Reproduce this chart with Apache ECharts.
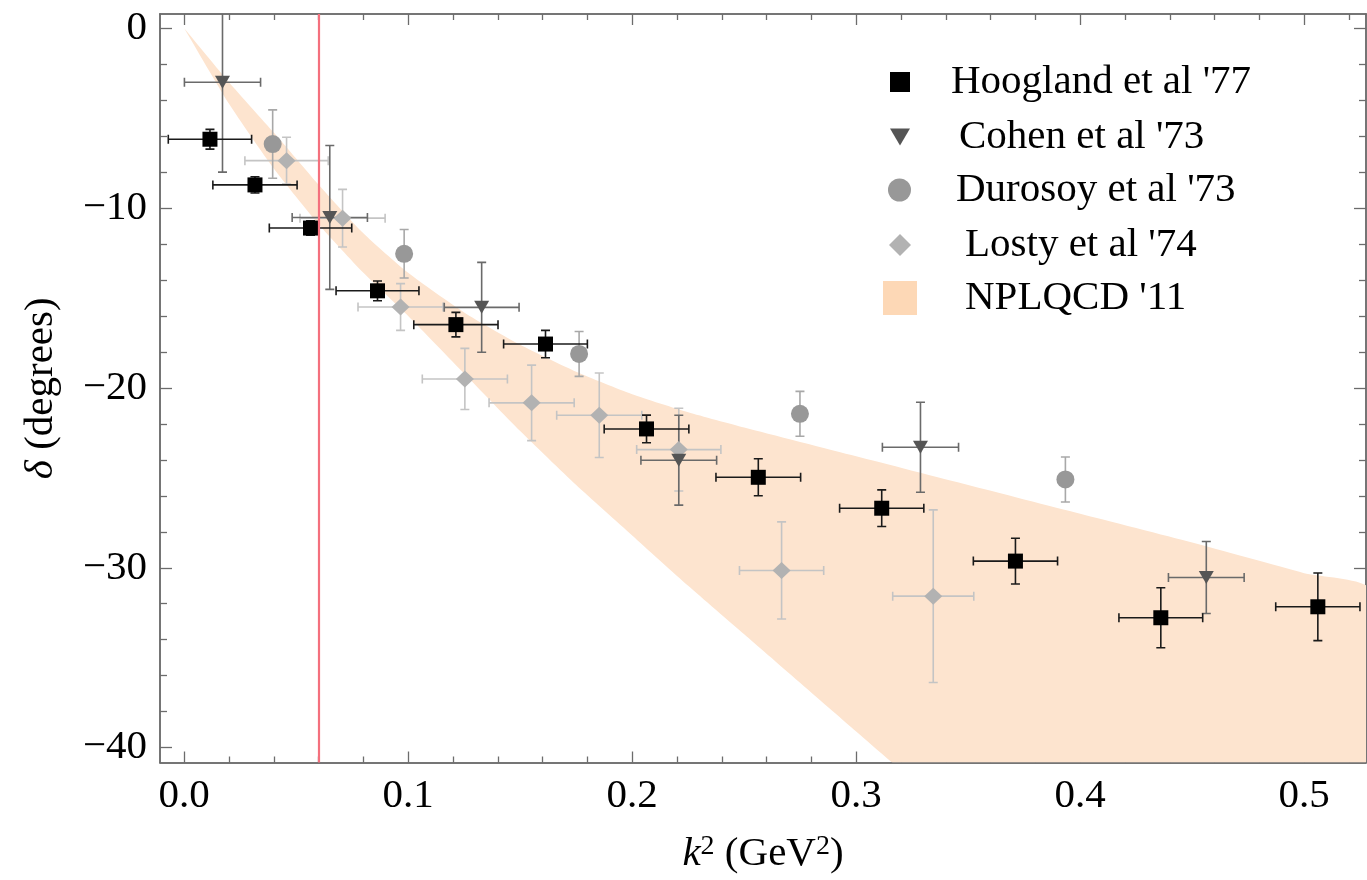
<!DOCTYPE html>
<html>
<head>
<meta charset="utf-8">
<script src="https://cdn.jsdelivr.net/npm/echarts@6/dist/echarts.min.js"></script>
<style>
html,body{margin:0;padding:0;background:#ffffff;}
#chart{width:1367px;height:880px;}
</style>
</head>
<body>
<div id="chart"></div>
<script>
// ---------------- data ----------------
const hooglandX    = [0.0115, 0.0316, 0.0564, 0.0863, 0.1213, 0.1613, 0.2064, 0.2563, 0.3114, 0.3711, 0.4360, 0.5061];
const hooglandY    = [-6.17, -8.71, -11.11, -14.60, -16.48, -17.56, -22.28, -24.97, -26.69, -29.63, -32.78, -32.17];
const hooglandXErr = [0.0186, 0.0188, 0.0184, 0.0185, 0.0188, 0.0187, 0.0189, 0.0189, 0.0188, 0.0188, 0.0187, 0.0188];
const hooglandYErr = [0.55, 0.45, 0.40, 0.55, 0.68, 0.76, 0.77, 1.03, 1.02, 1.27, 1.67, 1.88];

const cohenX    = [0.0171, 0.0650, 0.1328, 0.2208, 0.3287, 0.4563];
const cohenY    = [-3.00, -10.52, -15.52, -24.02, -23.30, -30.54];
const cohenXErr = [0.0170, 0.0168, 0.0167, 0.0169, 0.0170, 0.0169];
const cohenYErr = [5.0, 4.0, 2.5, 2.5, 2.5, 2.0];

const durosoyX    = [0.0395, 0.0982, 0.1763, 0.2749, 0.3934];
const durosoyY    = [-6.44, -12.54, -18.11, -21.44, -25.09];
const durosoyYErr = [1.9, 1.35, 1.25, 1.25, 1.25];

const lostyX    = [0.0457, 0.0707, 0.0966, 0.1253, 0.1551, 0.1853, 0.2208, 0.2667, 0.3344];
const lostyY    = [-7.36, -10.56, -15.50, -19.50, -20.83, -21.52, -23.43, -30.15, -31.58];
const lostyXErr = [0.0186, 0.0190, 0.0190, 0.0190, 0.0190, 0.0190, 0.0188, 0.0188, 0.0181];
const lostyYErr = [1.3, 1.6, 1.3, 1.7, 2.1, 2.35, 2.3, 2.7, 4.8];

// NPLQCD '11 band (upper / lower edge)
const bandX     = [0, 0.02, 0.04, 0.06, 0.08, 0.10, 0.125, 0.15, 0.175, 0.20, 0.225, 0.25, 0.30, 0.35, 0.40, 0.45, 0.50, 0.53];
const bandUpper = [0, -3.0, -5.8, -8.7, -11.4, -13.6, -15.8, -17.6, -19.1, -20.35, -21.35, -22.2, -23.8, -25.4, -27.0, -28.6, -30.3, -31.3];
const bandLower = [0, -4.2, -7.8, -10.9, -13.6, -16.0, -19.2, -22.4, -25.4, -28.2, -31.0, -33.7, -39.1, -44.5, -49.8, -55.0, -60.2, -63.3];

// vertical threshold line
const thresholdX = [0.0579];

// ticks
const xMajorTicks = [0, 0.1, 0.2, 0.3, 0.4, 0.5];
const xMinorTicks = [0.02, 0.04, 0.06, 0.08, 0.12, 0.14, 0.16, 0.18, 0.22, 0.24, 0.26, 0.28, 0.32, 0.34, 0.36, 0.38, 0.42, 0.44, 0.46, 0.48, 0.52];
const yMajorTicks = [0, -10, -20, -30, -40];
const yMinorTicks = [-2, -4, -6, -8, -12, -14, -16, -18, -22, -24, -26, -28, -32, -34, -36, -38];

const seriesNames = ["Hoogland et al '77", "Cohen et al '73", "Durosoy et al '73", "Losty et al '74", "NPLQCD '11"];

// ---------------- layout / style ----------------
const X_MIN = -0.0108, X_MAX = 0.5276;
const Y_MIN = -40.83, Y_MAX = 0.794;
const FONT = "'Liberation Serif', 'Times New Roman', serif";
const FRAME = '#6c6c6c';
const TRI_DOWN = 'path://M0,0 L20,0 L10,17 Z';

function zip(a, b, c, d) {
  return a.map((v, i) => [v, b[i], c ? c[i] : 0, d ? d[i] : 0]);
}

function xAxisDef(position, ticks, len, withLabels) {
  const ax = {
    type: 'value', position: position, min: X_MIN, max: X_MAX,
    splitLine: { show: false },
    axisLine: { show: true, onZero: false, lineStyle: { color: FRAME, width: 1.5 } },
    axisTick: { show: true, inside: true, length: len, customValues: ticks, lineStyle: { color: FRAME, width: 1.3 } },
    axisLabel: { show: false }
  };
  if (withLabels) {
    ax.axisLabel = {
      show: true, customValues: ticks, margin: 13,
      fontFamily: FONT, fontSize: 41, color: '#000',
      formatter: v => v.toFixed(1)
    };
    ax.name = '{i|k}{s|2}{n| (GeV}{s|2}{n|)}';
    ax.nameLocation = 'middle';
    ax.nameGap = 70;
    ax.nameTextStyle = {
      fontFamily: FONT, fontSize: 41, color: '#000',
      rich: {
        i: { fontFamily: FONT, fontSize: 41, fontStyle: 'italic', color: '#000', lineHeight: 44 },
        n: { fontFamily: FONT, fontSize: 41, color: '#000', lineHeight: 44 },
        s: { fontFamily: FONT, fontSize: 28, color: '#000', verticalAlign: 'top', lineHeight: 26 }
      }
    };
  }
  return ax;
}

function yAxisDef(position, ticks, len, withLabels) {
  const ax = {
    type: 'value', position: position, min: Y_MIN, max: Y_MAX,
    splitLine: { show: false },
    axisLine: { show: true, onZero: false, lineStyle: { color: FRAME, width: 1.5 } },
    axisTick: { show: true, inside: true, length: len, customValues: ticks, lineStyle: { color: FRAME, width: 1.3 } },
    axisLabel: { show: false }
  };
  if (withLabels) {
    ax.axisLabel = {
      show: true, customValues: ticks, margin: 13,
      fontFamily: FONT, fontSize: 41, color: '#000',
      formatter: v => (v < 0 ? '\u2212' + Math.abs(v) : String(v))
    };
    ax.name = '{i|\u03b4}{n| (degrees)}';
    ax.nameLocation = 'middle';
    ax.nameRotate = 90;
    ax.nameGap = 97;
    ax.nameTextStyle = {
      fontFamily: FONT, fontSize: 41, color: '#000',
      rich: {
        i: { fontFamily: FONT, fontSize: 41, fontStyle: 'italic', color: '#000', lineHeight: 44 },
        n: { fontFamily: FONT, fontSize: 41, color: '#000', lineHeight: 44 }
      }
    };
  }
  return ax;
}

function errorBarSeries(name, data, color, width) {
  const cap = 4.5;
  return {
    type: 'custom', name: name, xAxisIndex: 0, yAxisIndex: 0, z: 3, clip: true,
    encode: { x: 0, y: 1 }, silent: true,
    data: data,
    renderItem: function (params, api) {
      const x = api.value(0), y = api.value(1), ex = api.value(2), ey = api.value(3);
      const st = { stroke: color, lineWidth: width };
      const children = [];
      if (ex > 0) {
        const l = api.coord([x - ex, y]), r = api.coord([x + ex, y]);
        children.push({ type: 'line', shape: { x1: l[0], y1: l[1], x2: r[0], y2: r[1] }, style: st });
        children.push({ type: 'line', shape: { x1: l[0], y1: l[1] - cap, x2: l[0], y2: l[1] + cap }, style: st });
        children.push({ type: 'line', shape: { x1: r[0], y1: r[1] - cap, x2: r[0], y2: r[1] + cap }, style: st });
      }
      if (ey > 0) {
        const t = api.coord([x, y + ey]), b = api.coord([x, y - ey]);
        children.push({ type: 'line', shape: { x1: t[0], y1: t[1], x2: b[0], y2: b[1] }, style: st });
        children.push({ type: 'line', shape: { x1: t[0] - cap, y1: t[1], x2: t[0] + cap, y2: t[1] }, style: st });
        children.push({ type: 'line', shape: { x1: b[0] - cap, y1: b[1], x2: b[0] + cap, y2: b[1] }, style: st });
      }
      return { type: 'group', children: children };
    }
  };
}

function markerSeries(name, xs, ys, symbol, size, color) {
  return {
    type: 'scatter', name: name, xAxisIndex: 0, yAxisIndex: 0, z: 4,
    symbol: symbol, symbolSize: size,
    itemStyle: { color: color, opacity: 1 },
    data: xs.map((x, i) => [x, ys[i]])
  };
}

function legendDef(name, icon, w, h, left, cy, pad, color) {
  const item = { name: name, icon: icon };
  if (color) item.itemStyle = { color: color };
  return {
    data: [item], left: left, top: cy - 22, orient: 'vertical', padding: 0,
    itemWidth: w, itemHeight: h, selectedMode: false,
    textStyle: { fontFamily: FONT, fontSize: 41, color: '#000', lineHeight: 44, padding: [0, 0, 0, pad] }
  };
}

const bandSeries = {
  type: 'custom', name: seriesNames[4], xAxisIndex: 0, yAxisIndex: 0, z: 1, clip: true,
  encode: { x: 0, y: 1 }, silent: true,
  itemStyle: { color: '#fcdcbf' },
  data: bandX.map((x, i) => [x, bandUpper[i], bandLower[i]]),
  renderItem: function (params, api) {
    if (params.dataIndex !== 0) return null;
    const pts = [];
    for (let i = 0; i < bandX.length; i++) pts.push(api.coord([bandX[i], bandUpper[i]]));
    for (let i = bandX.length - 1; i >= 0; i--) pts.push(api.coord([bandX[i], bandLower[i]]));
    const cs = params.coordSys;
    return {
      type: 'group',
      clipPath: { type: 'rect', shape: { x: cs.x, y: cs.y, width: cs.width, height: cs.height } },
      children: [{ type: 'polygon', shape: { points: pts, smooth: 0.2 }, style: { fill: '#fde4cf', stroke: null } }]
    };
  },
  markLine: {
    silent: true, symbol: ['none', 'none'], label: { show: false }, animation: false,
    lineStyle: { color: '#f4707d', width: 2.2, type: 'solid', opacity: 1 },
    emphasis: { disabled: true },
    data: thresholdX.map(v => ({ xAxis: v }))
  }
};

const option = {
  animation: false,
  backgroundColor: '#ffffff',
  grid: { left: 160, top: 14, width: 1206, height: 749.3, containLabel: false },
  xAxis: [
    xAxisDef('bottom', xMajorTicks, 11, true),
    xAxisDef('bottom', xMinorTicks, 6, false),
    xAxisDef('top', xMajorTicks, 11, false),
    xAxisDef('top', xMinorTicks, 6, false)
  ],
  yAxis: [
    yAxisDef('left', yMajorTicks, 12, true),
    yAxisDef('left', yMinorTicks, 7, false),
    yAxisDef('right', yMajorTicks, 12, false),
    yAxisDef('right', yMinorTicks, 7, false)
  ],
  legend: [
    legendDef(seriesNames[0], 'rect', 20, 20, 890, 82, 36),
    legendDef(seriesNames[1], TRI_DOWN, 20, 18, 890, 137, 44),
    legendDef(seriesNames[2], 'circle', 23, 23, 888, 190, 40),
    legendDef(seriesNames[3], 'diamond', 22, 22, 889, 245, 49),
    legendDef(seriesNames[4], 'rect', 34, 34, 883, 298, 43, '#fdd8b6')
  ],
  series: [
    bandSeries,
    errorBarSeries('err-losty', zip(lostyX, lostyY, lostyXErr, lostyYErr), '#c4c4c4', 1.6),
    markerSeries(seriesNames[3], lostyX, lostyY, 'diamond', [18, 17], '#b2b2b2'),
    errorBarSeries('err-durosoy', zip(durosoyX, durosoyY, null, durosoyYErr), '#a8a8a8', 1.6),
    markerSeries(seriesNames[2], durosoyX, durosoyY, 'circle', 18, '#989898'),
    errorBarSeries('err-cohen', zip(cohenX, cohenY, cohenXErr, cohenYErr), '#6a6a6a', 1.6),
    markerSeries(seriesNames[1], cohenX, cohenY, TRI_DOWN, [15, 13], '#555555'),
    errorBarSeries('err-hoogland', zip(hooglandX, hooglandY, hooglandXErr, hooglandYErr), '#1a1a1a', 1.6),
    markerSeries(seriesNames[0], hooglandX, hooglandY, 'rect', 15, '#000000')
  ]
};

const chart = echarts.init(document.getElementById('chart'), null, { renderer: 'canvas' });
chart.setOption(option);
</script>
</body>
</html>
